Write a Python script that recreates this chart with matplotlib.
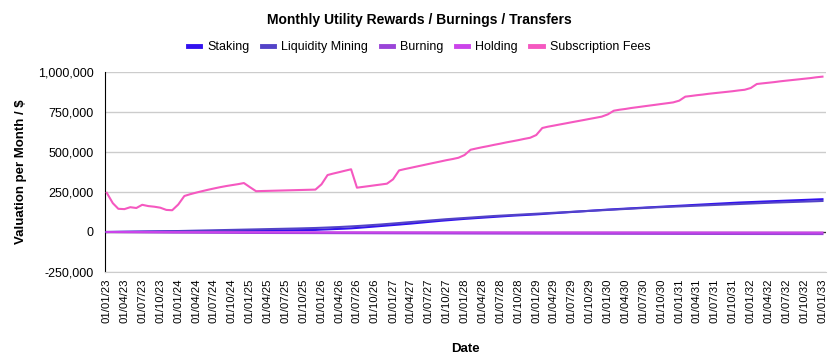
import matplotlib
matplotlib.use("Agg")
import matplotlib.pyplot as plt
import matplotlib.ticker as mticker
import numpy as np
import pandas as pd

plt.rcParams['font.family'] = ['Liberation Sans', 'DejaVu Sans']

# monthly values, Jan 2023 .. Jan 2033
staking = [
    0, 300, 600, 900, 1200, 1500, 1800, 2100, 2400, 2700, 3000, 3300,
    3600, 4000, 4400, 4800, 5200, 5600, 6000, 6400, 6800, 7200, 7600, 8000,
    8400, 8800, 9200, 9600, 10000, 10400, 10800, 11200, 11600, 12000, 12500, 13000,
    15000, 16500, 18000, 19500, 21000, 23000, 25500, 28500, 31500, 34500, 37500, 40500,
    43500, 46500, 49500, 52500, 56000, 59500, 63000, 66500, 70000, 73000, 76000, 79000,
    82000, 84500, 87000, 89500, 92000, 94500, 97000, 99500, 102000, 104000, 106000, 108000,
    110000, 112500, 115000, 117500, 120000, 122500, 125000, 127500, 130000, 132500, 135000, 137500,
    140000, 142000, 144000, 146000, 148000, 150000, 152000, 154000, 156000, 158000, 160000, 162000,
    164000, 166000, 168000, 170000, 172000, 174000, 176000, 178000, 180000, 182000, 184000, 185500,
    187000, 188500, 190000, 191500, 193000, 194500, 196000, 197500, 199000, 200500, 202000, 203500,
    205000]

liquidity = [
    0, 500, 1000, 1500, 2000, 2500, 3000, 3500, 4000, 4500, 5000, 5500,
    6000, 6800, 7600, 8400, 9200, 10000, 10800, 11600, 12400, 13200, 14000, 14800,
    15600, 16400, 17200, 18000, 18800, 19600, 20400, 21200, 22000, 23000, 24000, 25000,
    26500, 28000, 29500, 31000, 33000, 35000, 37000, 39500, 42000, 44500, 47000, 50000,
    53000, 56000, 59000, 62000, 65000, 68000, 71000, 74000, 77000, 80000, 82500, 85000,
    87500, 90000, 92500, 95000, 97500, 100000, 102000, 104000, 106000, 108000, 110000, 112000,
    114000, 116000, 118000, 120000, 122000, 124000, 126000, 128000, 130000, 132000, 134000, 136000,
    138000, 140000, 142000, 144000, 146000, 148000, 150000, 152000, 154000, 155500, 157000, 158500,
    160000, 161500, 163000, 164500, 166000, 167500, 169000, 170500, 172000, 173500, 175000, 176500,
    178000, 179500, 181000, 182500, 184000, 185200, 186400, 187600, 188800, 190000, 191200, 192500,
    194000]

burning = [
    0, -300, -600, -900, -1200, -1500, -1800, -2100, -2400, -2700, -3000, -3300,
    -3500, -3700, -3900, -4100, -4300, -4500, -4700, -4900, -5100, -5300, -5500, -5700,
    -5800, -5900, -6000, -6100, -6200, -6300, -6400, -6500, -6600, -6700, -6800, -6900,
    -7000, -7100, -7200, -7300, -7400, -7500, -7600, -7700, -7800, -7900, -8000, -8100,
    -8200, -8300, -8400, -8500, -8600, -8700, -8800, -8900, -9000, -9100, -9200, -9300,
    -9400, -9480, -9560, -9640, -9720, -9800, -9880, -9960, -10040, -10120, -10200, -10280,
    -10350, -10420, -10490, -10560, -10630, -10700, -10770, -10840, -10910, -10980, -11050, -11120,
    -11180, -11240, -11300, -11360, -11420, -11480, -11540, -11600, -11660, -11720, -11780, -11840,
    -11890, -11940, -11990, -12040, -12090, -12140, -12190, -12240, -12290, -12340, -12390, -12440,
    -12480, -12520, -12560, -12600, -12640, -12680, -12720, -12760, -12800, -12840, -12880, -12920,
    -12960]

holding = [
    0, -50, -100, -150, -200, -250, -300, -350, -400, -450, -500, -550,
    -600, -650, -700, -750, -800, -850, -900, -950, -1000, -1050, -1100, -1150,
    -1200, -1230, -1260, -1290, -1320, -1350, -1380, -1410, -1440, -1470, -1500, -1530,
    -1560, -1590, -1620, -1650, -1680, -1710, -1740, -1770, -1800, -1830, -1860, -1890,
    -1920, -1950, -1980, -2010, -2040, -2070, -2100, -2130, -2160, -2190, -2220, -2250,
    -2270, -2290, -2310, -2330, -2350, -2370, -2390, -2410, -2430, -2450, -2470, -2490,
    -2510, -2530, -2550, -2570, -2590, -2610, -2630, -2650, -2670, -2690, -2710, -2730,
    -2750, -2770, -2790, -2810, -2830, -2850, -2870, -2890, -2910, -2930, -2950, -2970,
    -2990, -3010, -3030, -3050, -3070, -3090, -3110, -3130, -3150, -3170, -3190, -3210,
    -3230, -3250, -3270, -3290, -3310, -3330, -3350, -3370, -3390, -3410, -3430, -3450,
    -3470]

subscription = [
    245000, 180000, 145000, 143000, 155000, 150000, 170000, 162000, 158000, 152000, 138000, 136000,
    172000, 225000, 236000, 246000, 255000, 264000, 272000, 280000, 287000, 293000, 299000, 306000,
    280000, 255000, 256000, 257000, 258000, 259000, 260000, 261000, 262000, 263000, 264000, 265000,
    298000, 356000, 365000, 374000, 383000, 392000, 277000, 282000, 287000, 292000, 297000, 302000,
    329000, 385000, 393000, 401000, 409000, 417000, 425000, 433000, 441000, 449000, 456000, 464000,
    481000, 514000, 522000, 530000, 537000, 545000, 552000, 560000, 567000, 574000, 582000, 589000,
    606000, 650000, 658000, 665000, 672000, 679000, 686000, 693000, 700000, 707000, 714000, 721000,
    735000, 758000, 764000, 769000, 775000, 780000, 785000, 790000, 795000, 800000, 805000, 810000,
    821000, 846000, 850000, 855000, 859000, 864000, 868000, 872000, 876000, 880000, 885000, 889000,
    900000, 925000, 929000, 933000, 937000, 942000, 946000, 950000, 954000, 958000, 962000, 967000,
    971000]

series_names = ["Staking", "Liquidity Mining", "Burning", "Holding", "Subscription Fees"]
series_vals = [staking, liquidity, burning, holding, subscription]
colors = ["#3212ef", "#5343c8", "#9a44d8", "#cb44ea", "#f558c0"]

dates = pd.date_range("2023-01-01", periods=len(subscription), freq="MS")
tick_dates = dates[::3]
tick_labels = [d.strftime("%d/%m/%y") for d in tick_dates]
y_ticks = [-250000, 0, 250000, 500000, 750000, 1000000]

fig = plt.figure(figsize=(8.38, 3.63), dpi=100)
ax = fig.add_axes([105/838, 1 - 272/363, (826 - 105)/838, 200/363])

for name, vals, c in zip(series_names, series_vals, colors):
    ax.plot(dates, vals, color=c, lw=1.5, label=name, zorder=3)

ax.axhline(0, color="#333333", lw=0.9, zorder=2)
ax.set_ylim(-250000, 1000000)
pad = pd.Timedelta(days=9)
ax.set_xlim(dates[0] - pad, dates[-1] + pd.Timedelta(days=18))
ax.set_yticks(y_ticks)
ax.yaxis.set_major_formatter(mticker.FuncFormatter(lambda v, p: f"{int(v):,}"))
ax.set_xticks(tick_dates)
ax.set_xticklabels(tick_labels, rotation=90, fontsize=8.2)
ax.tick_params(axis="y", length=0, pad=8, labelsize=9)
ax.tick_params(axis="x", length=0, pad=5)
ax.grid(axis="y", color="#cccccc", lw=1, zorder=0)
for s in ["top", "right"]:
    ax.spines[s].set_visible(False)
ax.spines["bottom"].set_color("#cccccc")
ax.spines["left"].set_color("black")

ax.set_xlabel("Date", fontsize=9.5, fontweight="bold", labelpad=14)
ax.set_ylabel("Valuation per Month / $", fontsize=9.5, fontweight="bold", labelpad=8)

fig.text(0.5, 1 - 20/363, "Monthly Utility Rewards / Burnings / Transfers",
         ha="center", va="center", fontsize=10, fontweight="bold")
handles, labels = ax.get_legend_handles_labels()
leg = fig.legend(handles, labels, loc="center", bbox_to_anchor=(0.5, 1 - 47/363),
                 ncol=5, frameon=False, fontsize=9, handlelength=1.0,
                 columnspacing=1.0, handletextpad=0.55)
for h in leg.legend_handles:
    h.set_linewidth(3.5)

fig.savefig("out.png", dpi=100)
